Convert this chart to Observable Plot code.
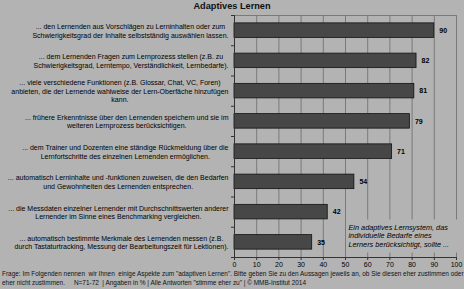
<!DOCTYPE html>
<html><head><meta charset="utf-8">
<script src="https://cdn.jsdelivr.net/npm/d3@7"></script>
<script src="https://cdn.jsdelivr.net/npm/@observablehq/plot@0.6"></script>
<style>
html,body{margin:0;padding:0;background:#b3b3b3;width:464px;height:289px;overflow:hidden;font-family:"Liberation Sans",Arial,sans-serif;}
#title{height:12px;line-height:13px;text-align:center;font-weight:bold;font-size:9.2px;color:#111;}
#footer{font-size:6.45px;line-height:8.5px;color:#111;white-space:pre;padding-left:2px;}
#chart svg{display:block;}
</style></head><body>
<div id="title">Adaptives Lernen</div>
<div id="chart"></div>
<div id="footer"></div>
<script>
const categories = [
  "... den Lernenden aus Vorschlägen zu Lerninhalten oder zum\nSchwierigkeitsgrad der Inhalte selbstständig auswählen lassen.",
  "... dem Lernenden Fragen zum Lernprozess stellen (z.B. zu\nSchwierigkeitsgrad, Lerntempo, Verständlichkeit, Lernbedarfe).",
  "... viele verschiedene Funktionen (z.B. Glossar, Chat, VC, Foren)\nanbieten, die der Lernende wahlweise der Lern-Oberfäche hinzufügen\nkann.",
  "... frühere Erkenntnisse über den Lernenden speichern und sie im\nweiteren Lernprozess berücksichtigen.",
  "... dem Trainer und Dozenten eine ständige Rückmeldung über die\nLernfortschritte des einzelnen Lernenden ermöglichen.",
  "... automatisch Lerninhalte und -funktionen zuweisen, die den Bedarfen\nund Gewohnheiten des Lernenden entsprechen.",
  "... die Messdaten einzelner Lernender mit Durchschnittswerten anderer\nLernender im Sinne eines Benchmarking vergleichen.",
  "... automatisch bestimmte Merkmale des Lernenden messen (z.B.\ndurch Tastaturtracking, Messung der Bearbeitungszeit für Lektionen)."
];
const values = [90, 82, 81, 79, 71, 54, 42, 35];
const xTicks = [0, 10, 20, 30, 40, 50, 60, 70, 80, 90, 100];
const note = "Ein adaptives Lernsystem, das\nindividuelle Bedarfe eines\nLerners berücksichtigt, sollte ...";
const footerLines = [
  'Frage: Im Folgenden nennen  wir Ihnen  einige Aspekte zum "adaptiven Lernen". Bitte geben Sie zu den Aussagen jeweils an, ob Sie diesen eher zustimmen oder',
  'eher nicht zustimmen.     N=71-72  | Angaben in % | Alle Antworten "stimme eher zu" | © MMB-Institut 2014'
];

const data = categories.map((c, i) => ({label: c, value: values[i], i}));

const ctx = document.createElement("canvas").getContext("2d");
ctx.font = '7px "Liberation Sans"';
const widthOf = s => d3.max(s.split("\n"), l => ctx.measureText(l).width);

const labelMarks = data.map(d => Plot.text([d], {
  x: () => 0, y: e => e.i + 0.5, text: "label",
  textAnchor: "middle", lineAnchor: "middle", lineHeight: 1.22,
  dx: -6 - widthOf(d.label) / 2, fontSize: 7, fill: "black"
}));

const chart = Plot.plot({
  width: 464, height: 258,
  marginTop: 3, marginBottom: 13, marginLeft: 234, marginRight: 8,
  style: {background: "transparent", fontFamily: "Liberation Sans", fontSize: "7px", color: "black"},
  x: {domain: [0, 100]},
  y: {domain: [0, 8], reverse: true},
  marks: [
    Plot.gridX(xTicks, {stroke: "#7a7a7a", strokeOpacity: 1}),
    Plot.frame({stroke: "#7a7a7a"}),
    Plot.rectX(data, {x: "value", y1: d => d.i + 0.26, y2: d => d.i + 0.74, fill: "#474747", stroke: "#111", strokeWidth: 0.8}),
    Plot.text(data, {x: "value", y: d => d.i + 0.5, text: d => String(d.value), dx: 5, textAnchor: "start", fontWeight: "bold", fontSize: 7, fill: "black"}),
    Plot.ruleX([0], {stroke: "#333"}),
    Plot.ruleY([8], {stroke: "#333"}),
    Plot.axisX({ticks: xTicks, tickSize: 3, tickPadding: 2, label: null, stroke: "#333", fill: "black", fontSize: 7}),
    Plot.axisY({ticks: d3.range(0, 9), tickSize: 3, tickFormat: () => "", label: null, stroke: "#333"}),
    ...labelMarks,
    Plot.text([note], {frameAnchor: "bottom-left", dx: 114, dy: -11, textAnchor: "start", lineAnchor: "bottom", fontStyle: "italic", fontSize: 7.3, lineHeight: 1.16, fill: "black", className: "note"})
  ]
});
document.getElementById("chart").appendChild(chart);

// background box behind the note, masking grid lines
const noteG = chart.querySelector("g.note") || [...chart.querySelectorAll('g[aria-label="text"]')].pop();
if (noteG) {
  const bb = noteG.getBBox();
  const r = document.createElementNS("http://www.w3.org/2000/svg", "rect");
  r.setAttribute("x", bb.x - 2); r.setAttribute("y", bb.y - 3);
  r.setAttribute("width", bb.width + 10); r.setAttribute("height", bb.height + 7);
  r.setAttribute("fill", "#b3b3b3");
  noteG.insertBefore(r, noteG.firstChild);
}

document.getElementById("footer").textContent = footerLines.join("\n");
</script>
</body></html>
